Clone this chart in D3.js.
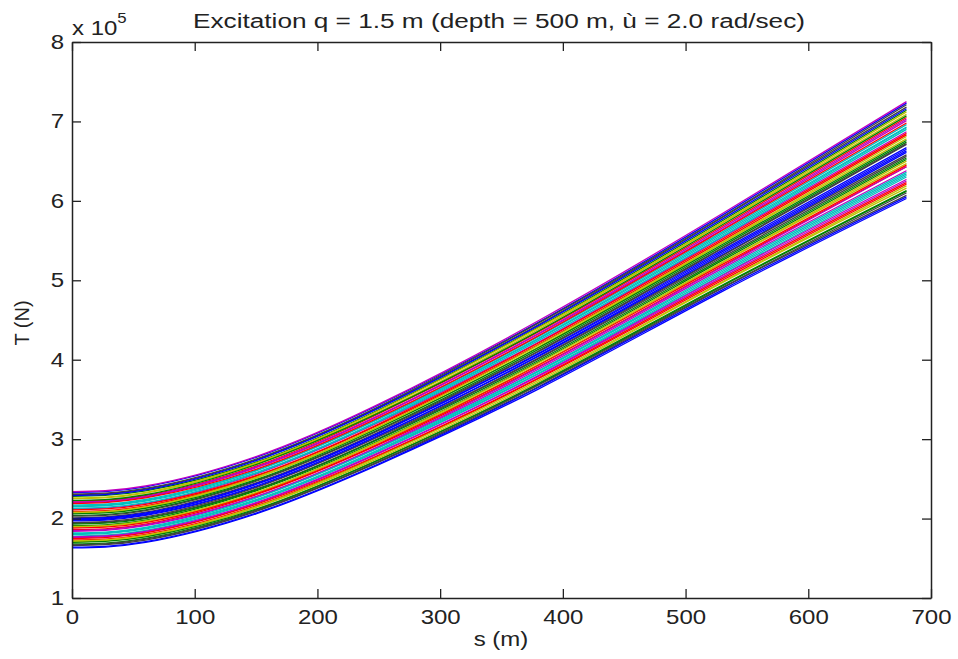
<!DOCTYPE html>
<html>
<head>
<meta charset="utf-8">
<script src="https://cdn.jsdelivr.net/npm/d3@7"></script>
<style>
  body { margin: 0; background: #fff; }
  text { font-family: "Liberation Sans", Arial, Helvetica, sans-serif; fill: #222; }
</style>
</head>
<body>
<svg id="chart" width="958" height="659"></svg>
<script>
// Arc-length positions along the cable (m) where each tension curve is sampled
const sKnots = [0, 60, 150, 250, 380, 530, 680];

// Tension curves, units of 1e5 N, listed from the lowest curve to the highest
const tension = [
  [1.63, 1.70, 2.06, 2.68, 3.63, 4.86, 6.03],
  [1.64, 1.71, 2.07, 2.69, 3.65, 4.88, 6.05],
  [1.66, 1.73, 2.09, 2.71, 3.66, 4.90, 6.07],
  [1.67, 1.74, 2.10, 2.72, 3.68, 4.91, 6.10],
  [1.68, 1.75, 2.11, 2.74, 3.69, 4.93, 6.12],
  [1.70, 1.77, 2.12, 2.74, 3.70, 4.94, 6.13],
  [1.71, 1.78, 2.14, 2.76, 3.72, 4.97, 6.16],
  [1.72, 1.79, 2.15, 2.78, 3.74, 4.98, 6.19],
  [1.73, 1.80, 2.16, 2.79, 3.76, 5.00, 6.21],
  [1.75, 1.82, 2.18, 2.80, 3.77, 5.02, 6.23],
  [1.76, 1.83, 2.19, 2.82, 3.79, 5.04, 6.25],
  [1.77, 1.84, 2.20, 2.83, 3.80, 5.06, 6.27],
  [1.78, 1.85, 2.22, 2.85, 3.82, 5.07, 6.30],
  [1.80, 1.87, 2.23, 2.86, 3.83, 5.09, 6.32],
  [1.81, 1.88, 2.24, 2.87, 3.85, 5.11, 6.34],
  [1.82, 1.89, 2.26, 2.89, 3.86, 5.13, 6.36],
  [1.84, 1.91, 2.27, 2.90, 3.88, 5.15, 6.38],
  [1.85, 1.92, 2.28, 2.91, 3.90, 5.17, 6.43],
  [1.86, 1.93, 2.30, 2.93, 3.91, 5.18, 6.43],
  [1.88, 1.95, 2.31, 2.94, 3.93, 5.20, 6.45],
  [1.89, 1.96, 2.32, 2.96, 3.94, 5.22, 6.47],
  [1.90, 1.97, 2.33, 2.97, 3.96, 5.23, 6.50],
  [1.91, 1.98, 2.35, 2.98, 3.97, 5.25, 6.52],
  [1.93, 2.00, 2.36, 3.00, 3.99, 5.27, 6.54],
  [1.94, 2.01, 2.37, 3.01, 4.01, 5.29, 6.56],
  [1.95, 2.02, 2.39, 3.03, 4.02, 5.31, 6.58],
  [1.97, 2.04, 2.40, 3.04, 4.04, 5.32, 6.61],
  [1.98, 2.05, 2.41, 3.05, 4.05, 5.34, 6.63],
  [1.99, 2.06, 2.43, 3.07, 4.07, 5.36, 6.65],
  [2.00, 2.07, 2.44, 3.08, 4.08, 5.38, 6.67],
  [2.01, 2.08, 2.45, 3.09, 4.10, 5.40, 6.71],
  [2.03, 2.10, 2.47, 3.11, 4.11, 5.41, 6.72],
  [2.04, 2.11, 2.48, 3.12, 4.13, 5.43, 6.74],
  [2.06, 2.13, 2.49, 3.14, 4.15, 5.45, 6.76],
  [2.07, 2.14, 2.51, 3.15, 4.16, 5.47, 6.78],
  [2.08, 2.15, 2.52, 3.16, 4.18, 5.48, 6.81],
  [2.09, 2.16, 2.53, 3.18, 4.19, 5.50, 6.83],
  [2.11, 2.18, 2.54, 3.19, 4.21, 5.52, 6.85],
  [2.12, 2.19, 2.56, 3.21, 4.22, 5.54, 6.87],
  [2.13, 2.20, 2.57, 3.22, 4.24, 5.55, 6.90],
  [2.15, 2.22, 2.58, 3.23, 4.26, 5.57, 6.92],
  [2.16, 2.23, 2.60, 3.25, 4.27, 5.59, 6.93],
  [2.17, 2.24, 2.61, 3.26, 4.29, 5.61, 6.96],
  [2.19, 2.26, 2.62, 3.27, 4.30, 5.63, 6.98],
  [2.20, 2.27, 2.64, 3.29, 4.32, 5.64, 7.01],
  [2.21, 2.28, 2.65, 3.30, 4.33, 5.66, 7.03],
  [2.22, 2.29, 2.66, 3.32, 4.35, 5.68, 7.05],
  [2.23, 2.30, 2.68, 3.33, 4.36, 5.70, 7.07],
  [2.25, 2.32, 2.69, 3.34, 4.38, 5.72, 7.09],
  [2.26, 2.33, 2.70, 3.36, 4.40, 5.73, 7.12],
  [2.28, 2.35, 2.71, 3.37, 4.41, 5.75, 7.14],
  [2.29, 2.36, 2.73, 3.39, 4.43, 5.77, 7.16],
  [2.30, 2.37, 2.74, 3.40, 4.44, 5.79, 7.18],
  [2.31, 2.38, 2.75, 3.41, 4.46, 5.80, 7.21],
  [2.33, 2.40, 2.77, 3.43, 4.47, 5.82, 7.23],
  [2.34, 2.41, 2.78, 3.44, 4.49, 5.84, 7.25]
];

// Sequence in which the curves are plotted (row indices into tension)
const plotOrder = [
  0, 4, 8, 12, 16, 20, 24, 28, 32, 36, 40, 44, 48, 52,
  54, 50, 46, 42, 38, 34, 30, 26, 22, 18, 14, 10, 6, 2,
  1, 5, 9, 13, 17, 21, 25, 29, 33, 37, 41, 45, 49, 53,
  51, 47, 43, 39, 55, 35, 31, 27, 23, 19, 15, 11, 7, 3
];

// Colour cycle applied in plotting order
const lineColors = ["#0000ff", "#008000", "#ff0000", "#00bfbf", "#bf00bf", "#bfbf00", "#404040"];

const xTicks = [0, 100, 200, 300, 400, 500, 600, 700];
const yTicks = [1, 2, 3, 4, 5, 6, 7, 8];

const titleText = "Excitation q = 1.5 m (depth = 500 m, \u00f9 = 2.0 rad/sec)";
const xLabel = "s (m)";
const yLabel = "T (N)";

const svg = d3.select("#chart");
const plot = { left: 72, right: 931, top: 42, bottom: 598 };
const fontSize = 20;
const stretch = 1.2;   // horizontal widening of the glyphs

const x = d3.scaleLinear().domain([0, 700]).range([plot.left, plot.right]);
const y = d3.scaleLinear().domain([1, 8]).range([plot.bottom, plot.top]);

const curve = d3.line()
  .x((d, i) => x(sKnots[i]))
  .y(d => y(d))
  .curve(d3.curveNatural);

svg.append("g")
  .selectAll("path")
  .data(plotOrder)
  .join("path")
  .attr("d", r => curve(tension[r]))
  .attr("fill", "none")
  .attr("stroke", (r, i) => lineColors[i % lineColors.length])
  .attr("stroke-width", 1.3)
  .attr("stroke-linejoin", "round");

function styleAxis(g) {
  g.attr("font-size", fontSize).attr("font-family", null);
  g.select(".domain").attr("stroke", "#222").attr("stroke-width", 1.5);
  g.selectAll(".tick line").attr("stroke", "#222").attr("stroke-width", 1.3);
  g.selectAll(".tick text").attr("fill", "#222");
}

const tickLen = 9;

// bottom axis with labels
svg.append("g")
  .attr("transform", `translate(0,${plot.bottom})`)
  .call(d3.axisBottom(x).tickValues(xTicks).tickSizeInner(-tickLen).tickSizeOuter(0)
    .tickPadding(12).tickFormat(d3.format("d")))
  .call(styleAxis)
  .call(g => g.selectAll(".tick text").attr("transform", `scale(${stretch},1)`));

// top axis, ticks only
svg.append("g")
  .attr("transform", `translate(0,${plot.top})`)
  .call(d3.axisTop(x).tickValues(xTicks).tickSizeInner(-tickLen).tickSizeOuter(0).tickFormat(""))
  .call(styleAxis);

// left axis with labels
svg.append("g")
  .attr("transform", `translate(${plot.left},0)`)
  .call(d3.axisLeft(y).tickValues(yTicks).tickSizeInner(-tickLen).tickSizeOuter(0)
    .tickPadding(8).tickFormat(d3.format("d")))
  .call(styleAxis)
  .call(g => g.selectAll(".tick text")
    .attr("x", -8 / stretch)
    .attr("transform", `scale(${stretch},1)`));

// right axis, ticks only
svg.append("g")
  .attr("transform", `translate(${plot.right},0)`)
  .call(d3.axisRight(y).tickValues(yTicks).tickSizeInner(-tickLen).tickSizeOuter(0).tickFormat(""))
  .call(styleAxis);

// exponent marker above the y axis
const expo = svg.append("text")
  .attr("transform", `translate(${plot.left},35) scale(${stretch},1)`)
  .attr("font-size", fontSize);
expo.append("tspan").text("x 10");
expo.append("tspan").attr("dy", -12).attr("font-size", 14).text("5");

// title
svg.append("text")
  .attr("x", 499).attr("y", 28)
  .attr("text-anchor", "middle")
  .attr("font-size", fontSize)
  .attr("textLength", 612)
  .attr("lengthAdjust", "spacingAndGlyphs")
  .text(titleText);

// axis titles
svg.append("text")
  .attr("transform", `translate(501,646) scale(${stretch},1)`)
  .attr("text-anchor", "middle")
  .attr("font-size", fontSize)
  .text(xLabel);

svg.append("text")
  .attr("transform", "translate(29,323) rotate(-90)")
  .attr("text-anchor", "middle")
  .attr("font-size", fontSize)
  .text(yLabel);
</script>
</body>
</html>
